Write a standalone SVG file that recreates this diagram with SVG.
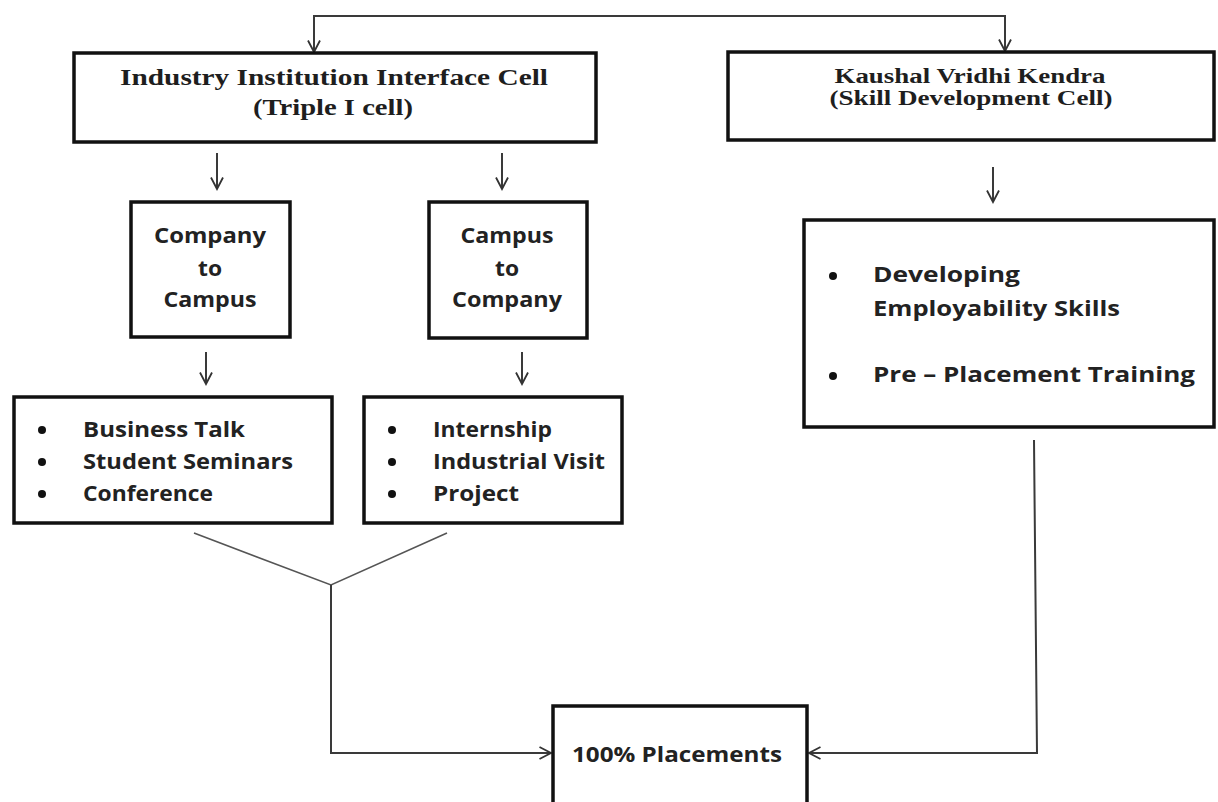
<svg xmlns="http://www.w3.org/2000/svg" width="1218" height="802" viewBox="0 0 1218 802">
  <style>
    .box { fill: #ffffff; stroke: #111111; stroke-width: 3.5; }
    .conn { fill: none; stroke: #3a3a3a; stroke-width: 2; }
    .thin { fill: none; stroke: #555555; stroke-width: 1.6; }
    .serif { font-family: "Liberation Serif", "Times New Roman", serif; font-weight: 700; fill: #1e1e1e; }
    .sans { font-family: "Open Sans", "Liberation Sans", sans-serif; font-weight: 700; fill: #222222; font-size: 22px; }
    .bullet { fill: #111111; }
  </style>
  <defs>
    <marker id="ah" viewBox="0 0 14 14" refX="12.5" refY="7" markerWidth="14" markerHeight="14" markerUnits="userSpaceOnUse" orient="auto">
      <path d="M1,1 L12.5,7 L1,13" fill="none" stroke="#333333" stroke-width="1.8"/>
    </marker>
  </defs>
  <rect width="1218" height="802" fill="#ffffff"/>

  <g id="connectors">
    <path class="conn" d="M660,16 H314 V52" marker-end="url(#ah)"/>
    <path class="conn" d="M660,16 H1005 V51" marker-end="url(#ah)"/>
    <line class="conn" x1="217" y1="153" x2="217" y2="189" marker-end="url(#ah)"/>
    <line class="conn" x1="502" y1="153" x2="502" y2="189" marker-end="url(#ah)"/>
    <line class="conn" x1="206" y1="352" x2="206" y2="384" marker-end="url(#ah)"/>
    <line class="conn" x1="522" y1="352" x2="522" y2="384" marker-end="url(#ah)"/>
    <line class="conn" x1="993" y1="167" x2="993" y2="202" marker-end="url(#ah)"/>
    <polyline class="thin" points="194,533 331,585 447,533"/>
    <path class="conn" d="M331,585 V753 H551" marker-end="url(#ah)"/>
    <path class="conn" d="M1034,440 L1037,753 H809" marker-end="url(#ah)"/>
  </g>

  <g id="node-triple-i">
    <rect class="box" x="74" y="53" width="522" height="89"/>
    <text class="serif" x="334" y="85" font-size="24" text-anchor="middle" textLength="428" lengthAdjust="spacingAndGlyphs">Industry Institution Interface Cell</text>
    <text class="serif" x="333" y="115" font-size="24" text-anchor="middle" textLength="160" lengthAdjust="spacingAndGlyphs">(Triple I cell)</text>
  </g>

  <g id="node-kvk">
    <rect class="box" x="728" y="52" width="486" height="88"/>
    <text class="serif" x="970" y="83" font-size="20" text-anchor="middle" textLength="271" lengthAdjust="spacingAndGlyphs">Kaushal Vridhi Kendra</text>
    <text class="serif" x="971" y="105" font-size="20" text-anchor="middle" textLength="283" lengthAdjust="spacingAndGlyphs">(Skill Development Cell)</text>
  </g>

  <g id="node-company-to-campus">
    <rect class="box" x="131" y="202" width="159" height="135"/>
    <text class="sans" x="210" y="243" text-anchor="middle" textLength="112" lengthAdjust="spacingAndGlyphs">Company</text>
    <text class="sans" x="210" y="276" text-anchor="middle" textLength="24" lengthAdjust="spacingAndGlyphs">to</text>
    <text class="sans" x="210" y="307" text-anchor="middle" textLength="93" lengthAdjust="spacingAndGlyphs">Campus</text>
  </g>

  <g id="node-campus-to-company">
    <rect class="box" x="429" y="202" width="158" height="136"/>
    <text class="sans" x="507" y="243" text-anchor="middle" textLength="93" lengthAdjust="spacingAndGlyphs">Campus</text>
    <text class="sans" x="507" y="276" text-anchor="middle" textLength="24" lengthAdjust="spacingAndGlyphs">to</text>
    <text class="sans" x="507" y="307" text-anchor="middle" textLength="110" lengthAdjust="spacingAndGlyphs">Company</text>
  </g>

  <g id="node-c2c-activities">
    <rect class="box" x="14" y="397" width="318" height="126"/>
    <circle class="bullet" cx="42" cy="430" r="4"/>
    <circle class="bullet" cx="42" cy="462" r="4"/>
    <circle class="bullet" cx="42" cy="494" r="4"/>
    <text class="sans" x="83" y="437" textLength="162" lengthAdjust="spacingAndGlyphs">Business Talk</text>
    <text class="sans" x="83" y="469" textLength="210" lengthAdjust="spacingAndGlyphs">Student Seminars</text>
    <text class="sans" x="83" y="501" textLength="130" lengthAdjust="spacingAndGlyphs">Conference</text>
  </g>

  <g id="node-campus-activities">
    <rect class="box" x="364" y="397" width="258" height="126"/>
    <circle class="bullet" cx="392" cy="430" r="4"/>
    <circle class="bullet" cx="392" cy="462" r="4"/>
    <circle class="bullet" cx="392" cy="494" r="4"/>
    <text class="sans" x="433" y="437" textLength="119" lengthAdjust="spacingAndGlyphs">Internship</text>
    <text class="sans" x="433" y="469" textLength="172" lengthAdjust="spacingAndGlyphs">Industrial Visit</text>
    <text class="sans" x="433" y="501" textLength="86" lengthAdjust="spacingAndGlyphs">Project</text>
  </g>

  <g id="node-skills">
    <rect class="box" x="804" y="220" width="410" height="207"/>
    <circle class="bullet" cx="833" cy="276" r="4"/>
    <circle class="bullet" cx="833" cy="376" r="4"/>
    <text class="sans" x="873" y="282" textLength="147" lengthAdjust="spacingAndGlyphs">Developing</text>
    <text class="sans" x="873" y="316" textLength="247" lengthAdjust="spacingAndGlyphs">Employability Skills</text>
    <text class="sans" x="873" y="382" textLength="322" lengthAdjust="spacingAndGlyphs">Pre – Placement Training</text>
  </g>

  <g id="node-placements">
    <rect class="box" x="553" y="706" width="254" height="110"/>
    <text class="sans" x="572" y="762" textLength="210" lengthAdjust="spacingAndGlyphs">100% Placements</text>
  </g>
</svg>
